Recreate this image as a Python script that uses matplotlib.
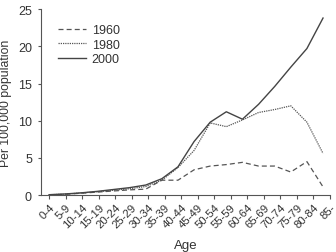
import numpy as np
import matplotlib
matplotlib.use("Agg")
import matplotlib.pyplot as plt

plt.rcParams['font.family'] = ['Liberation Sans', 'DejaVu Sans']

# age groups on the x axis
ages = ['0-4', '5-9', '10-14', '15-19', '20-24', '25-29', '30-34', '35-39',
        '40-44', '45-49', '50-54', '55-59', '60-64', '65-69', '70-74',
        '75-79', '80-84', '85-']

# rates per 100,000
r1960 = [0.03, 0.1, 0.25, 0.4, 0.55, 0.7, 0.8, 2.0, 2.0, 3.4, 3.9, 4.1,
         4.4, 3.9, 3.9, 3.1, 4.5, 1.1]
r1980 = [0.05, 0.12, 0.28, 0.45, 0.65, 0.85, 1.15, 2.0, 3.7, 6.0, 9.7, 9.2,
         10.1, 11.1, 11.5, 12.0, 9.8, 5.6]
r2000 = [0.05, 0.15, 0.3, 0.5, 0.75, 1.0, 1.35, 2.2, 3.8, 7.2, 9.8, 11.2,
         10.2, 12.2, 14.6, 17.2, 19.7, 23.8]

grey = '#555555'
txt = '#333333'

fig = plt.figure(figsize=(3.36, 2.53), dpi=100)
ax = fig.add_axes([0.122, 0.225, 0.860, 0.735])

x = np.arange(len(ages))
ax.plot(x, r1960, color=grey, lw=0.9, ls=(0, (4, 2.5)), label='1960')
ax.plot(x, r1980, color=grey, lw=0.9, ls=(0, (1, 0.8)), label='1980')
ax.plot(x, r2000, color='#444444', lw=1.0, ls='-', label='2000')

# tick spacing in the original is a bit wider than the data spacing
ax.set_xlim(-0.5, 17.43)
ax.set_xticks(np.linspace(0, 17.43, len(ages)))
ax.set_xticklabels(ages, rotation=45, ha='right', rotation_mode='anchor',
                   fontsize=8.2, color=txt)
ax.set_ylim(0, 25)
ax.set_yticks([0, 5, 10, 15, 20, 25])
ax.tick_params(axis='y', labelsize=9, colors=grey, labelcolor=txt,
               length=2.5, width=0.8, pad=4)
ax.tick_params(axis='x', length=3, width=0.8, colors=grey, labelcolor=txt, pad=2)

for s in ['top', 'right']:
    ax.spines[s].set_visible(False)
for s in ['left', 'bottom']:
    ax.spines[s].set_color(grey)
    ax.spines[s].set_linewidth(0.8)

ax.set_xlabel('Age', fontsize=9.5, color=txt)
ax.set_ylabel('Per 100,000 population', fontsize=8.8, color=txt)
ax.xaxis.set_label_coords(0.5, -0.237)
ax.yaxis.set_label_coords(-0.101, 0.5)

ax.legend(loc='upper left', bbox_to_anchor=(0.02, 0.98), frameon=False,
          fontsize=9, handlelength=2.2, handletextpad=0.5,
          labelspacing=0.2, labelcolor=txt)

fig.savefig('out.png', dpi=100)
